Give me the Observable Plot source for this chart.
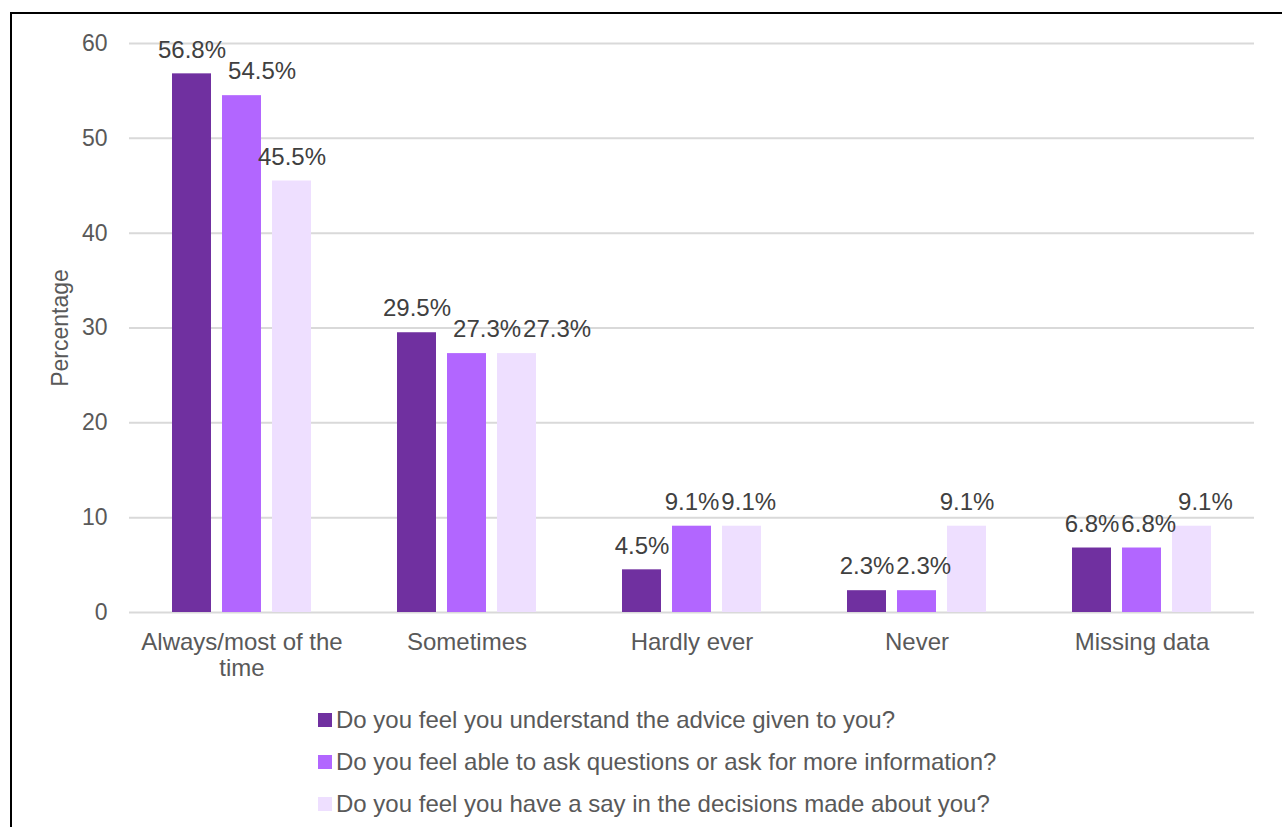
<!DOCTYPE html>
<html>
<head>
<meta charset="utf-8">
<script src="https://cdn.jsdelivr.net/npm/d3@7"></script>
<script src="https://cdn.jsdelivr.net/npm/@observablehq/plot@0.6"></script>
<style>
  html, body { margin: 0; padding: 0; background: #fff; width: 1282px; height: 827px; overflow: hidden; font-family: "Liberation Sans", Arial, sans-serif; }
  #frame { position: absolute; left: 10px; top: 12px; width: 1290px; height: 840px; border: 2px solid #000; box-sizing: border-box; }
  #chart { position: absolute; left: 0; top: 0; }
  #legend { position: absolute; left: 318px; top: 699px; color: #595959; font-size: 24px; }
  .row { display: flex; align-items: center; height: 42px; }
  .sw { width: 14px; height: 14px; margin-right: 4px; }
</style>
</head>
<body>
<div id="frame"></div>
<div id="chart"></div>
<div id="legend"></div>
<script>
const categories = ["Always/most of the time", "Sometimes", "Hardly ever", "Never", "Missing data"];
const tickLabels = ["Always/most of the\ntime", "Sometimes", "Hardly ever", "Never", "Missing data"];
const series = [
  "Do you feel you understand the advice given to you?",
  "Do you feel able to ask questions or ask for more information?",
  "Do you feel you have a say in the decisions made about you?"
];
const understand = [56.8, 29.5, 4.5, 2.3, 6.8];
const askQuestions = [54.5, 27.3, 9.1, 2.3, 6.8];
const haveSay = [45.5, 27.3, 9.1, 9.1, 9.1];
const colors = ["#7030A0", "#B266FF", "#EEDFFF"];
const yTicks = [0, 10, 20, 30, 40, 50, 60];

const seriesValues = [understand, askQuestions, haveSay];
const data = [];
categories.forEach((c, i) => {
  series.forEach((s, j) => data.push({category: c, series: s, value: seriesValues[j][i]}));
});

const chart = Plot.plot({
  width: 1282,
  height: 690,
  marginLeft: 127,
  marginRight: 27,
  marginTop: 43,
  marginBottom: 78,
  style: {fontFamily: "Liberation Sans, Arial, sans-serif", background: "transparent", overflow: "visible"},
  fx: {domain: categories, padding: 0, axis: null},
  x: {domain: series, paddingInner: 0.22, paddingOuter: 0.83, axis: null},
  y: {domain: [0, 60], label: "Percentage"},
  color: {domain: series, range: colors},
  marks: [
    Plot.gridY(yTicks, {stroke: "#d9d9d9", strokeOpacity: 1, strokeWidth: 2}),
    Plot.axisY(yTicks, {tickSize: 0, tickPadding: 22, fontSize: 23, fill: "#595959", label: "Percentage", labelAnchor: "center", labelArrow: "none", labelOffset: 78}),
    Plot.axisFx({anchor: "bottom", tickSize: 0, tickPadding: 18, fontSize: 24, fill: "#595959", lineHeight: 1.12, label: null,
      tickFormat: d => tickLabels[categories.indexOf(d)], textAnchor: "middle"}),
    Plot.barY(data, {fx: "category", x: "series", y: "value", fill: "series"}),
    Plot.text(data, {fx: "category", x: "series", y: "value", text: d => d.value.toFixed(1) + "%",
      lineAnchor: "middle", dy: -24, fontSize: 24, fill: "#404040", className: "vlabel"})
  ]
});
document.getElementById("chart").appendChild(chart);

// Nudge value labels that collide with the previous label (like the spreadsheet does)
const labels = Array.from(chart.querySelectorAll(".vlabel text"));
for (let i = 1; i < labels.length; i++) {
  const a = labels[i - 1].getBoundingClientRect();
  const b = labels[i].getBoundingClientRect();
  const vOverlap = a.bottom > b.top + 2 && b.bottom > a.top + 2;
  const hOverlap = a.right - b.left;
  if (vOverlap && hOverlap > 0 && a.left < b.left) {
    labels[i].setAttribute("dx", hOverlap + 2);
  }
}

const legend = document.getElementById("legend");
series.forEach((s, i) => {
  const row = document.createElement("div");
  row.className = "row";
  const sw = document.createElement("div");
  sw.className = "sw";
  sw.style.background = colors[i];
  const t = document.createElement("span");
  t.textContent = s;
  row.appendChild(sw);
  row.appendChild(t);
  legend.appendChild(row);
});
</script>
</body>
</html>
